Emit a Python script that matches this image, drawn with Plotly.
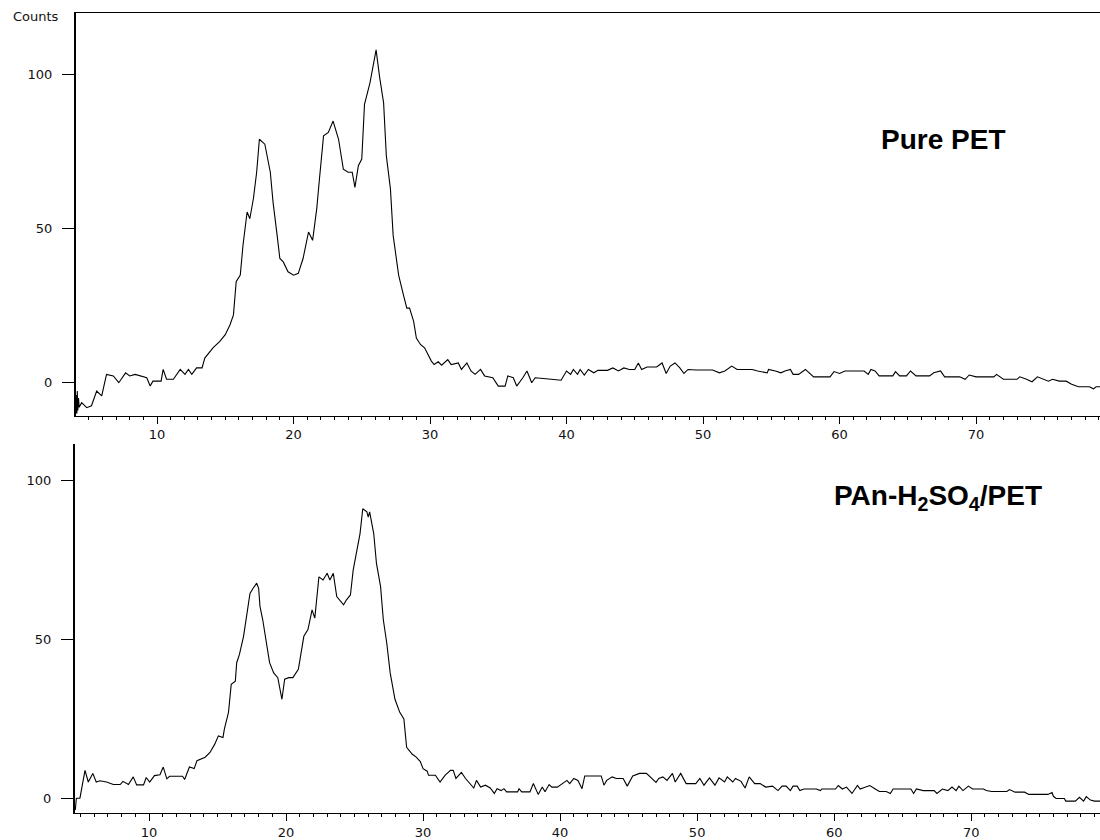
import plotly.graph_objects as go

# ---------------- data ----------------
# Pure PET (top panel): 2-theta (deg) and counts
pet_2theta = [4.07, 4.1, 4.13, 4.16, 4.2, 4.25, 4.3, 4.48, 4.85, 5.2, 5.58, 5.95, 6.3, 6.8, 7.2, 7.7, 8.0, 8.4,
              9.25, 9.5, 9.7, 10.3, 10.45, 10.7, 11.2, 11.7, 12.05, 12.3, 12.55, 12.9, 13.3, 13.5, 14.1, 14.6,
              15.0, 15.35, 15.6, 15.8, 16.1, 16.3, 16.6, 16.8, 17.06, 17.3, 17.5, 17.9, 18.3, 18.5, 18.8, 19.0,
              19.25, 19.6, 20.0, 20.35, 20.7, 21.1, 21.4, 21.7, 21.9, 22.2, 22.55, 22.9, 23.3, 23.65, 24.0, 24.3,
              24.5, 24.75, 25.0, 25.2, 25.6, 26.05, 26.3, 26.6, 26.8, 27.1, 27.3, 27.7, 28.05, 28.3, 28.5, 28.8,
              29.0, 29.3, 29.6, 30.1, 30.3, 30.6, 30.85, 31.3, 31.55, 32.07, 32.3, 32.7, 33.0, 33.3, 33.7, 34.0,
              34.6, 35.0, 35.5, 35.7, 36.1, 36.35, 36.8, 37.1, 37.45, 37.7, 38.5, 39.6, 40.0, 40.3, 40.5, 40.8,
              41.0, 41.3, 41.6, 42.0, 42.3, 43.0, 43.4, 43.8, 44.2, 44.6, 45.0, 45.26, 45.5, 45.9, 46.6, 47.0,
              47.3, 47.6, 47.95, 48.3, 48.6, 48.9, 49.5, 50.7, 51.2, 51.6, 52.1, 52.5, 53.6, 54.0, 54.7, 54.8,
              55.3, 55.7, 56.0, 56.4, 56.6, 57.0, 57.5, 57.9, 58.1, 59.3, 59.6, 60.0, 60.4, 61.8, 62.1, 62.3,
              62.6, 62.9, 63.9, 64.1, 64.4, 64.9, 65.2, 65.6, 66.6, 66.9, 67.4, 67.7, 68.8, 69.2, 69.5, 70.0,
              71.3, 71.5, 72.0, 73.0, 73.2, 73.7, 74.1, 74.5, 74.9, 75.3, 75.6, 76.1, 76.6, 77.0, 77.5, 78.3,
              78.6, 78.8, 79.08]
pet_counts = [-10, -4, -10, -2.7, -9, -5, -8, -6.5, -8.1, -7.5, -2.7, -4.3, 2.7, 2.2, 0, 3.2, 2.2, 2.7,
              1.6, -1.1, 0.5, 0.5, 4.3, 1.1, 1.1, 4.3, 2.7, 4.3, 2.7, 4.8, 4.8, 8, 11.3, 13.4,
              15.6, 18.8, 22, 32.8, 34.9, 44.6, 55.4, 53.2, 59.7, 68.3, 79, 77.4, 68.3, 58.6, 47.8, 40.3,
              39.2, 36, 34.9, 35.5, 40.3, 48.9, 46.2, 56.4, 66.1, 80.1, 81.2, 84.9, 79, 69.3, 68.3, 68.3,
              63.4, 70.4, 72.6, 90.3, 97.3, 108, 99.4, 90.8, 73.6, 62.9, 47.8, 34.9, 28.5, 24.2, 24.2, 19.9,
              14.5, 12.4, 11.3, 7, 5.9, 6.8, 5.7, 7.5, 5.9, 6.4, 4.3, 6.4, 3.8, 2.7, 4.3, 2.2,
              1.6, -1.1, -1.1, 2.2, 1.6, -1.1, 1.6, 3.8, 0, 1.6, 1.3, 0.8, 3.8, 2.7, 4.3, 2.7,
              4.3, 2.5, 4.3, 3.2, 4, 4, 4.8, 3.8, 4.8, 4.3, 4.3, 6.4, 4.3, 5.1, 5.1, 6.4,
              3, 5.4, 6.4, 4.8, 3, 4.3, 4.1, 4.1, 3.2, 3.8, 5.4, 4.3, 4.3, 3.8, 3.2, 4.3,
              3.8, 3.2, 3.8, 4.3, 2.7, 2.7, 4.3, 2.7, 1.9, 1.9, 3.6, 3, 3.8, 3.8, 2.7, 4.3,
              3.8, 2.2, 2.2, 3.6, 2.2, 2.2, 3.8, 2.2, 2.2, 3.2, 3.8, 1.9, 1.9, 1.1, 2.5, 1.9,
              1.9, 2.7, 1.1, 1.1, 1.9, 1.1, 0.3, 1.9, 1.1, 0.5, 1.1, 0.5, 0.5, -0.5, -1.3, -1.3,
              -2, -1.3, -1.3]

# PAn-H2SO4/PET (bottom panel)
pan_2theta = [4.62, 4.7, 4.96, 5.33, 5.57, 5.9, 6.15, 6.42, 6.9, 7.4, 7.9, 8.1, 8.5, 8.85, 9.1, 9.6, 9.8,
              10.05, 10.4, 10.8, 11.04, 11.3, 11.5, 12.45, 12.6, 12.95, 13.3, 13.5, 14.1, 14.45, 14.8, 15.06,
              15.4, 15.5, 15.8, 16.0, 16.3, 16.4, 16.6, 16.9, 17.1, 17.37, 17.6, 17.86, 18.0, 18.1, 18.3, 18.6,
              18.8, 19.1, 19.4, 19.7, 19.9, 20.2, 20.5, 20.9, 21.3, 21.6, 21.9, 22.1, 22.4, 22.7, 23.0, 23.2,
              23.45, 23.7, 23.9, 24.2, 24.4, 24.7, 24.9, 25.2, 25.4, 25.6, 25.9, 26.0, 26.1, 26.4, 26.6, 26.9,
              27.1, 27.35, 27.6, 27.95, 28.3, 28.6, 28.8, 29.2, 29.5, 29.8, 30.0, 30.3, 30.4, 30.9, 31.24, 31.6,
              32.0, 32.2, 32.4, 32.8, 33.1, 33.7, 33.9, 34.2, 34.55, 34.9, 35.2, 35.4, 35.7, 35.9, 36.1, 36.9,
              37.0, 37.2, 37.8, 38.05, 38.4, 38.7, 38.9, 39.2, 39.4, 39.8, 40.1, 40.5, 40.7, 41.0, 41.3, 41.6,
              41.8, 43.0, 43.2, 43.4, 43.8, 44.1, 44.6, 44.9, 45.3, 45.8, 46.3, 46.7, 47.0, 47.2, 47.5, 47.8,
              48.2, 48.4, 48.8, 49.2, 49.9, 50.2, 50.5, 50.9, 51.3, 51.6, 52.0, 52.2, 52.6, 52.8, 53.2, 53.5,
              53.8, 54.2, 54.6, 55.0, 55.5, 55.9, 56.2, 56.5, 56.8, 57.0, 57.3, 57.5, 57.8, 58.7, 59.0, 59.1,
              60.1, 60.3, 60.6, 60.9, 61.3, 61.7, 61.9, 62.3, 62.6, 63.0, 63.3, 63.8, 64.1, 64.3, 65.6, 65.8,
              66.0, 66.5, 67.3, 67.5, 67.9, 68.3, 68.6, 68.9, 69.1, 69.4, 69.8, 70.1, 70.9, 71.1, 71.5, 72.6,
              72.8, 73.2, 73.9, 74.2, 75.6, 75.9, 76.0, 76.2, 76.8, 76.9, 77.6, 77.9, 78.2, 78.4, 78.7, 79.0,
              79.4]
pan_counts = [-3.75, 0, 0, 8.75, 5.1, 7.8, 5.1, 5.5, 5.1, 4.3, 4.3, 5.3, 4.3, 6.7, 4.2, 4.2, 6.5,
              5.1, 7.1, 7.4, 9.8, 6.1, 6.9, 6.9, 5.9, 9.8, 9.3, 11.8, 12.9, 14.4, 17, 19.6,
              19.1, 21.7, 27, 35.8, 36.8, 42.6, 45.2, 50.9, 56.6, 64.4, 66, 67.6, 66, 60.3, 56.1, 48.8,
              42.6, 39.4, 37.9, 31.1, 37.4, 37.9, 37.9, 40.5, 50.9, 53, 59.2, 56.6, 69.6, 68.6, 70.7, 68.6,
              70.7, 63.4, 62.3, 60.8, 62.3, 63.9, 71.7, 78, 83.2, 91, 90, 88.4, 90, 83.2, 73.8, 66.5,
              56.1, 48.8, 39.4, 31.1, 27, 24.9, 16, 13.9, 12.9, 11.5, 9.3, 8.5, 7.2, 7.2, 5.1, 7.2,
              8.75, 8.75, 6.2, 8.1, 6.2, 3.2, 5.6, 3.5, 4.1, 3.2, 1.5, 3, 2.4, 3, 2, 2,
              3, 2, 2, 4.6, 1.2, 3.5, 2, 4.3, 3.5, 3.5, 4.3, 5.6, 4.6, 6.2, 5.6, 3,
              7, 7, 4.1, 5.6, 6.7, 6.2, 6.2, 3.8, 7, 7.8, 7.8, 6.2, 5, 6.2, 6.7, 5.6,
              7.8, 5.1, 7.8, 4.6, 4.6, 6.2, 4.1, 6.4, 4.1, 6.4, 5.1, 6.7, 5.1, 6.2, 5.3, 3.2,
              6.7, 4.6, 4.6, 3.5, 3.8, 2.4, 3.8, 3.8, 2.4, 3.8, 3.8, 2.4, 2.9, 2.9, 2.4, 2.9,
              2.9, 4, 2.9, 3.5, 1.5, 4, 2.9, 3.5, 4, 2.9, 2.1, 2.1, 1.5, 2.9, 2.9, 1.5,
              2.9, 2.4, 2.4, 1.5, 2.9, 2.4, 3.5, 2.4, 3.8, 2.4, 3.8, 2.9, 2.9, 2.4, 2.1, 2.1,
              2.7, 1.9, 1.9, 1.2, 1.2, 1.8, 0.6, -0.1, -0.1, -0.9, -0.9, 0.3, -0.9, 0.5, -0.6, -0.9,
              -0.9]

x_ticks = [10, 20, 30, 40, 50, 60, 70]
y_ticks = [0, 50, 100]
label_top = "<b>Pure PET</b>"
label_bottom = "<b>PAn-H<sub>2</sub>SO<sub>4</sub>/PET</b>"
y_title = "Counts"

# ---------------- figure ----------------
W, H = 1100, 840
fig = go.Figure()
line_style = dict(color="black", width=1.1)
fig.add_trace(go.Scatter(x=pet_2theta, y=pet_counts, mode="lines", line=line_style,
                         xaxis="x", yaxis="y", showlegend=False, hoverinfo="skip"))
fig.add_trace(go.Scatter(x=pan_2theta, y=pan_counts, mode="lines", line=line_style,
                         xaxis="x2", yaxis="y2", showlegend=False, hoverinfo="skip"))

tick_font = dict(family="DejaVu Sans, Verdana, sans-serif", size=13, color="#111")

def xaxis_cfg(domain, rng, anchor, mirror):
    return dict(domain=domain, range=rng, anchor=anchor, showline=True, linecolor="black", linewidth=1,
                mirror=mirror, ticks="outside", tickvals=x_ticks, ticklen=7, tickcolor="black", tickwidth=1,
                minor=dict(dtick=1, ticks="outside", ticklen=3, tickcolor="black", tickwidth=1),
                showgrid=False, zeroline=False, tickfont=tick_font, fixedrange=True)

def yaxis_cfg(domain, rng, anchor):
    return dict(domain=domain, range=rng, anchor=anchor, showline=True, linecolor="black", linewidth=2,
                ticks="outside", tickvals=y_ticks, ticklen=12, tickcolor="black", tickwidth=1,
                ticklabelstandoff=7, showgrid=False, zeroline=False, tickfont=tick_font, fixedrange=True)

fig.update_layout(
    width=W, height=H, margin=dict(l=0, r=0, t=0, b=0),
    paper_bgcolor="white", plot_bgcolor="white",
    xaxis=xaxis_cfg([76 / W, 1.0], [4.066, 79.08], "y", True),
    yaxis=yaxis_cfg([1 - 418 / H, 1 - 13 / H], [-10.65, 120.0], "x"),
    xaxis2=xaxis_cfg([75 / W, 1.0], [4.6, 79.4], "y2", False),
    yaxis2=yaxis_cfg([1 - 818 / H, 1 - 447 / H], [-4.69, 111.25], "x2"),
    annotations=[
        dict(text=y_title, xref="paper", yref="paper", x=11 / W, y=1 - 17 / H, xanchor="left",
             yanchor="middle", showarrow=False, font=tick_font),
        dict(text=label_top, xref="paper", yref="paper", x=943 / W, y=1 - 140 / H, xanchor="center",
             yanchor="middle", showarrow=False,
             font=dict(family="Arial, Liberation Sans, sans-serif", size=28, color="black")),
        dict(text=label_bottom, xref="paper", yref="paper", x=938 / W, y=1 - 500 / H, xanchor="center",
             yanchor="middle", showarrow=False,
             font=dict(family="Arial, Liberation Sans, sans-serif", size=28, color="black")),
    ],
)

fig.write_html("out.html", config={"displayModeBar": False},
               post_script="document.body.style.margin='0';document.body.style.overflow='hidden';")
